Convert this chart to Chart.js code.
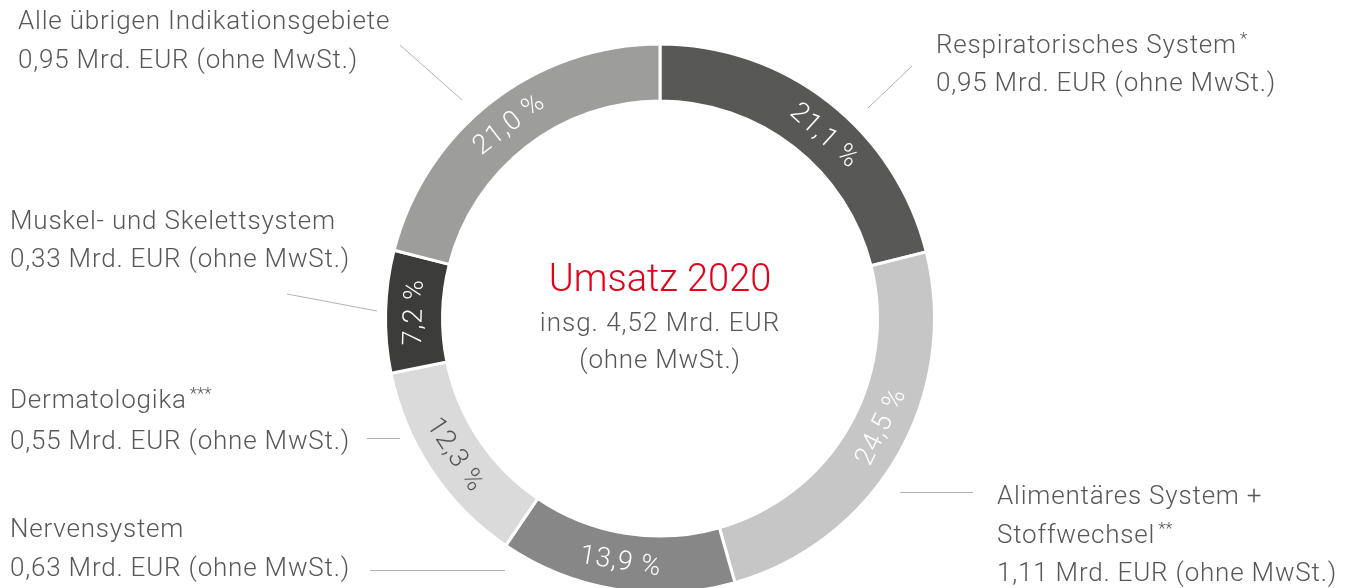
<!DOCTYPE html>
<html lang="de">
<head>
<meta charset="utf-8">
<script src="https://cdn.jsdelivr.net/npm/chart.js@4.4.1/dist/chart.umd.min.js"></script>
<style>
  html, body { margin: 0; padding: 0; width: 1348px; height: 588px; overflow: hidden; background: #fff; }
  #wrap { position: absolute; left: 0; top: 0; width: 1348px; height: 640px; }
  #chart { position: absolute; left: 0; top: 0; }
  .lbl { position: absolute; font-family: "Roboto", "Liberation Sans", sans-serif; font-weight: 300;
         font-size: 26px; letter-spacing: 0.8px; line-height: 30px; color: #575756; white-space: nowrap; }
  .lbl sup { font-size: 17px; vertical-align: 0; position: relative; top: -9px; margin-left: 3px; letter-spacing: 0; }
  .ctr { position: absolute; left: 410px; width: 500px; text-align: center; font-family: "Roboto", "Liberation Sans", sans-serif;
         font-weight: 300; white-space: nowrap; }
</style>
</head>
<body>
<div id="wrap">
  <canvas id="chart" width="1348" height="640"></canvas>
</div>
<script>
// ---- data ----
const categories = [
  'Respiratorisches System',
  'Alimentäres System + Stoffwechsel',
  'Nervensystem',
  'Dermatologika',
  'Muskel- und Skelettsystem',
  'Alle übrigen Indikationsgebiete'
];
const shares = [21.1, 24.5, 13.9, 12.3, 7.2, 21.0];          // percent
const revenue = [0.95, 1.11, 0.63, 0.55, 0.33, 0.95];        // Mrd. EUR (ohne MwSt.)
const footnotes = ['*', '**', '', '***', '', ''];
const totalRevenue = 4.52;
const chartTitle = 'Umsatz 2020';

// ---- styles ----
const colors = ['#585856', '#c6c6c6', '#878787', '#dadada', '#3c3c3b', '#9d9d9c'];
const pctColors = ['#ffffff', '#ffffff', '#ffffff', '#555555', '#ffffff', '#ffffff'];
const pctAngleNudge = [4, -4, 0, 0, 0, 0]; // degrees, label placement tweak within its arc

// label layout: x, baselines of each line, split of category text
const labelLayout = [
  { x: 936, base: [53, 91], lines: ['Respiratorisches System'] },
  { x: 997, base: [504, 543, 581], lines: ['Alimentäres System +', 'Stoffwechsel'] },
  { x: 10,  base: [537, 576], lines: ['Nervensystem'] },
  { x: 10,  base: [408, 449], lines: ['Dermatologika'] },
  { x: 10,  base: [229, 267], lines: ['Muskel- und Skelettsystem'] },
  { x: 18,  base: [29, 68], lines: ['Alle übrigen Indikationsgebiete'] }
];
const leaderLines = [
  [912, 66, 868, 108],
  [900, 492.5, 973, 492.5],
  [370, 570.5, 505, 570.5],
  [367, 438.5, 400, 438.5],
  [287, 294, 377, 311],
  [400, 45, 462, 100]
];

const fmt = v => v.toFixed(2).replace('.', ',');
const fmtPct = v => v.toFixed(1).replace('.', ',') + ' %';

// ---- outer labels (HTML text) ----
const wrap = document.getElementById('wrap');
const ASC = 24; // baseline offset within a 30px line box (26px font)
labelLayout.forEach((L, i) => {
  const texts = L.lines.slice();
  texts.push(fmt(revenue[i]) + ' Mrd. EUR (ohne MwSt.)');
  texts.forEach((t, j) => {
    const d = document.createElement('div');
    d.className = 'lbl';
    d.style.left = L.x + 'px';
    d.style.top = (L.base[j] - ASC) + 'px';
    d.textContent = t;
    if (j === L.lines.length - 1 && footnotes[i]) {
      const s = document.createElement('sup');
      s.textContent = footnotes[i];
      d.appendChild(s);
    }
    wrap.appendChild(d);
  });
});

// ---- center text ----
function addCenter(text, base, size, color, spacing) {
  const d = document.createElement('div');
  d.className = 'ctr';
  d.style.fontSize = size + 'px';
  d.style.lineHeight = size + 'px';
  d.style.letterSpacing = spacing + 'px';
  d.style.color = color;
  const asc = (size - size * 1.171) / 2 + size * 0.927;
  d.style.top = (base - asc) + 'px';
  d.textContent = text;
  wrap.appendChild(d);
}
addCenter(chartTitle, 291, 38, '#e3001b', 0);
addCenter('insg. ' + fmt(totalRevenue) + ' Mrd. EUR', 331, 26, '#575756', 1);
addCenter('(ohne MwSt.)', 368, 26, '#575756', 0.8);

// ---- plugin: rotated percentage labels + leader lines ----
const pctPlugin = {
  id: 'pctLabels',
  afterDatasetsDraw(chart) {
    const ctx = chart.ctx;
    const meta = chart.getDatasetMeta(0);
    ctx.save();
    ctx.strokeStyle = '#b2b2b2';
    ctx.lineWidth = 1;
    leaderLines.forEach(l => {
      ctx.beginPath(); ctx.moveTo(l[0], l[1]); ctx.lineTo(l[2], l[3]); ctx.stroke();
    });
    ctx.font = '300 27px "Roboto", "Liberation Sans", sans-serif';
    try { ctx.letterSpacing = '1px'; } catch (e) {}
    ctx.textAlign = 'center';
    ctx.textBaseline = 'middle';
    meta.data.forEach((arc, i) => {
      const p = arc.getProps(['x', 'y', 'startAngle', 'endAngle', 'innerRadius', 'outerRadius'], true);
      const mid = (p.startAngle + p.endAngle) / 2 + pctAngleNudge[i] * Math.PI / 180;
      const r = (p.innerRadius + p.outerRadius) / 2;
      let theta = mid + Math.PI / 2; // clockwise from top
      while (theta < 0) theta += 2 * Math.PI;
      while (theta >= 2 * Math.PI) theta -= 2 * Math.PI;
      const rot = (theta > Math.PI / 2 && theta < 3 * Math.PI / 2) ? theta - Math.PI : theta;
      ctx.save();
      ctx.translate(p.x + r * Math.cos(mid), p.y + r * Math.sin(mid));
      ctx.rotate(rot);
      ctx.fillStyle = pctColors[i];
      ctx.fillText(fmtPct(shares[i]), 0, 1);
      ctx.restore();
    });
    ctx.restore();
  }
};

new Chart(document.getElementById('chart'), {
  type: 'doughnut',
  data: {
    labels: categories,
    datasets: [{
      data: shares,
      backgroundColor: colors,
      borderColor: '#ffffff',
      borderWidth: 3,
      hoverOffset: 0
    }]
  },
  options: {
    responsive: false,
    animation: false,
    events: [],
    cutout: 217.5,
    layout: { padding: { left: 384, right: 412, top: 42.5, bottom: 45.5 } },
    plugins: { legend: { display: false }, tooltip: { enabled: false } }
  },
  plugins: [pctPlugin]
});
</script>
</body>
</html>
